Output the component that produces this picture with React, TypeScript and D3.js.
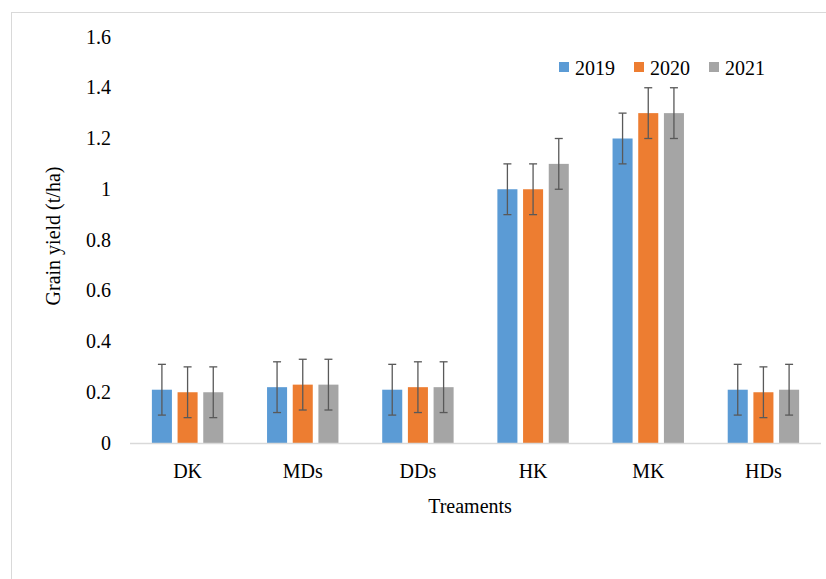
import { useEffect, useRef } from 'react'
import * as d3 from 'd3'

const CATEGORIES = ['DK', 'MDs', 'DDs', 'HK', 'MK', 'HDs']
const SERIES = ['2019', '2020', '2021']
const VALUES_2019 = [0.21, 0.22, 0.21, 1.0, 1.2, 0.21]
const VALUES_2020 = [0.2, 0.23, 0.22, 1.0, 1.3, 0.2]
const VALUES_2021 = [0.2, 0.23, 0.22, 1.1, 1.3, 0.21]
const ERRORS_2019 = [0.1, 0.1, 0.1, 0.1, 0.1, 0.1]
const ERRORS_2020 = [0.1, 0.1, 0.1, 0.1, 0.1, 0.1]
const ERRORS_2021 = [0.1, 0.1, 0.1, 0.1, 0.1, 0.1]
const Y_TICKS = [0, 0.2, 0.4, 0.6, 0.8, 1, 1.2, 1.4, 1.6]
const COLORS = ['#5b9bd5', '#ed7d31', '#a5a5a5']

const WIDTH = 826
const HEIGHT = 579
const FONT = "'Liberation Serif', 'Times New Roman', serif"

interface BarDatum {
  category: string
  series: string
  value: number
  error: number
  color: string
}

export default function App() {
  const svgRef = useRef<SVGSVGElement | null>(null)

  useEffect(() => {
    if (!svgRef.current) {
      return
    }

    const svg = d3.select(svgRef.current)
    svg.selectAll('*').remove()

    const plot = { left: 130, right: 821, top: 37, bottom: 443 }

    const x = d3
      .scaleBand<string>()
      .domain(CATEGORIES)
      .range([plot.left, plot.right])
      .paddingInner(0)
      .paddingOuter(0)

    const groupWidth = 71.4
    const xInner = d3
      .scaleBand<string>()
      .domain(SERIES)
      .range([-groupWidth / 2, groupWidth / 2])
      .paddingInner(0.22)
      .paddingOuter(0)

    const y = d3.scaleLinear().domain([0, 1.6]).range([plot.bottom, plot.top])

    const valueSets = [VALUES_2019, VALUES_2020, VALUES_2021]
    const errorSets = [ERRORS_2019, ERRORS_2020, ERRORS_2021]
    const bars: BarDatum[] = CATEGORIES.flatMap((category, ci) =>
      SERIES.map((series, si) => ({
        category,
        series,
        value: valueSets[si][ci],
        error: errorSets[si][ci],
        color: COLORS[si],
      })),
    )

    const barX = (d: BarDatum) =>
      (x(d.category) ?? 0) + x.bandwidth() / 2 + (xInner(d.series) ?? 0)
    const barMid = (d: BarDatum) => barX(d) + xInner.bandwidth() / 2

    // chart frame, runs off the right and bottom edges like the source
    svg
      .append('rect')
      .attr('x', 11.5)
      .attr('y', 12.5)
      .attr('width', WIDTH)
      .attr('height', HEIGHT)
      .attr('fill', '#ffffff')
      .attr('stroke', '#d9d9d9')
      .attr('stroke-width', 1)

    svg
      .selectAll('text.y-tick')
      .data(Y_TICKS)
      .enter()
      .append('text')
      .attr('class', 'y-tick')
      .attr('x', 111)
      .attr('y', (d: number) => y(d))
      .attr('dy', '0.33em')
      .attr('text-anchor', 'end')
      .style('font-family', FONT)
      .attr('font-size', 20)
      .attr('fill', '#000')
      .text((d: number) => String(d))

    svg
      .selectAll('rect.bar')
      .data(bars)
      .enter()
      .append('rect')
      .attr('class', 'bar')
      .attr('x', barX)
      .attr('y', (d: BarDatum) => y(d.value))
      .attr('width', xInner.bandwidth())
      .attr('height', (d: BarDatum) => y(0) - y(d.value))
      .attr('fill', (d: BarDatum) => d.color)

    svg
      .append('line')
      .attr('x1', plot.left)
      .attr('x2', plot.right)
      .attr('y1', y(0) + 0.5)
      .attr('y2', y(0) + 0.5)
      .attr('stroke', '#d9d9d9')
      .attr('stroke-width', 1.5)

    const errors = svg.append('g').attr('stroke', '#595959').attr('stroke-width', 1.3)

    errors
      .selectAll('line.err-stem')
      .data(bars)
      .enter()
      .append('line')
      .attr('class', 'err-stem')
      .attr('x1', barMid)
      .attr('x2', barMid)
      .attr('y1', (d: BarDatum) => y(d.value + d.error))
      .attr('y2', (d: BarDatum) => y(d.value - d.error))

    errors
      .selectAll('line.err-cap-top')
      .data(bars)
      .enter()
      .append('line')
      .attr('class', 'err-cap-top')
      .attr('x1', (d: BarDatum) => barMid(d) - 4)
      .attr('x2', (d: BarDatum) => barMid(d) + 4)
      .attr('y1', (d: BarDatum) => y(d.value + d.error))
      .attr('y2', (d: BarDatum) => y(d.value + d.error))

    errors
      .selectAll('line.err-cap-bottom')
      .data(bars)
      .enter()
      .append('line')
      .attr('class', 'err-cap-bottom')
      .attr('x1', (d: BarDatum) => barMid(d) - 4)
      .attr('x2', (d: BarDatum) => barMid(d) + 4)
      .attr('y1', (d: BarDatum) => y(d.value - d.error))
      .attr('y2', (d: BarDatum) => y(d.value - d.error))

    svg
      .selectAll('text.x-label')
      .data(CATEGORIES)
      .enter()
      .append('text')
      .attr('class', 'x-label')
      .attr('x', (d: string) => (x(d) ?? 0) + x.bandwidth() / 2)
      .attr('y', 478)
      .attr('text-anchor', 'middle')
      .style('font-family', FONT)
      .attr('font-size', 20)
      .attr('fill', '#000')
      .text((d: string) => d)

    svg
      .append('text')
      .attr('x', 470)
      .attr('y', 513)
      .attr('text-anchor', 'middle')
      .style('font-family', FONT)
      .attr('font-size', 20)
      .attr('fill', '#000')
      .text('Treaments')

    svg
      .append('text')
      .attr('transform', 'translate(60, 236) rotate(-90)')
      .attr('text-anchor', 'middle')
      .style('font-family', FONT)
      .attr('font-size', 20)
      .attr('fill', '#000')
      .text('Grain yield (t/ha)')

    const legendX = [575, 650, 725]
    const legend = svg
      .selectAll('g.legend-item')
      .data(SERIES)
      .enter()
      .append('g')
      .attr('class', 'legend-item')
      .attr('transform', (_: string, i: number) => `translate(${legendX[i]}, 75)`)

    legend
      .append('rect')
      .attr('x', -16)
      .attr('y', -13)
      .attr('width', 10)
      .attr('height', 10)
      .attr('fill', (_: string, i: number) => COLORS[i])

    legend
      .append('text')
      .attr('x', 0)
      .attr('y', 0)
      .style('font-family', FONT)
      .attr('font-size', 20)
      .attr('fill', '#000')
      .text((d: string) => d)
  }, [])

  return (
    <svg
      ref={svgRef}
      width={WIDTH}
      height={HEIGHT}
      style={{ position: 'absolute', left: 0, top: 0, background: '#fff' }}
      role="img"
      aria-label="Grain yield by treatment for 2019, 2020 and 2021"
    />
  )
}
